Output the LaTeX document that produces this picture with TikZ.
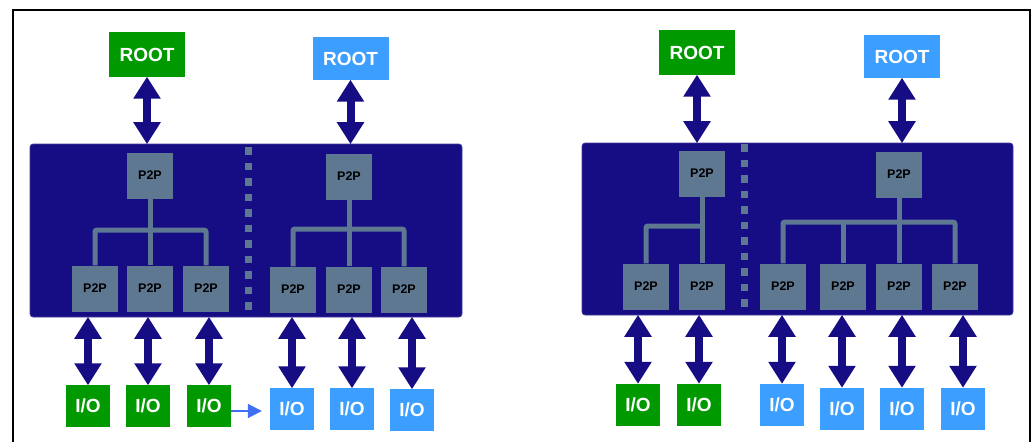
\documentclass[tikz,border=0pt]{standalone}
\usepackage{fontspec}
\setmainfont{Liberation Sans}
\usetikzlibrary{arrows.meta}
\definecolor{navy}{RGB}{22,12,131}
\definecolor{grn}{RGB}{0,153,0}
\definecolor{lblue}{RGB}{60,158,255}
\definecolor{p2pgray}{RGB}{94,120,146}
\definecolor{linkblue}{RGB}{63,111,243}
\tikzset{
  panel/.style={fill=navy, draw=navy!80!white, line width=0.6pt, rounded corners=3pt, inner sep=0},
  rootg/.style={fill=grn, text=white, minimum width=76pt, minimum height=45pt, inner sep=0, font=\bfseries\fontsize{19}{19}\selectfont},
  rootb/.style={rootg, fill=lblue, minimum height=43pt},
  iog/.style={fill=grn, text=white, minimum width=44pt, minimum height=42pt, inner sep=0, font=\bfseries\fontsize{19}{19}\selectfont},
  iob/.style={iog, fill=lblue},
  p2p/.style={fill=p2pgray, text=black, minimum width=46pt, minimum height=46pt, inner sep=0, font=\bfseries\fontsize{12.5}{12.5}\selectfont},
  dbl/.style={draw=navy, line width=8pt, {Triangle[width=26pt,length=22pt]}-{Triangle[width=26pt,length=22pt]}, shorten <=-0.5pt, shorten >=-0.5pt},
  tree/.style={draw=p2pgray, line width=5pt, rounded corners=2pt},
  divider/.style={draw=p2pgray, line width=7pt, dash pattern=on 7.5pt off 8pt},
  link/.style={draw=linkblue, line width=2pt, -{Triangle[width=14pt,length=14pt]}}
}
\begin{document}
\begin{tikzpicture}[x=1pt,y=-1pt]
\useasboundingbox (0,0) rectangle (1032,442);
\fill[white] (0,0) rectangle (1032,442);
% frame
\draw[line width=2pt] (13,442) -- (13,10) -- (1030,10) -- (1030,442);

% panels
\node[panel, minimum width=432pt, minimum height=173pt] (panelL) at (246,230.5) {};
\node[panel, minimum width=431pt, minimum height=172pt] (panelR) at (797.5,229) {};

% dividers
\coordinate (dLt) at (248.5,147);
\coordinate (dLb) at (248.5,316);
\coordinate (dRt) at (744,144);
\coordinate (dRb) at (744,313);
\draw[divider] (dLt) -- (dLb);
\draw[divider] (dRt) -- (dRb);

% roots
\node[rootg] (rLG) at (147,54.5) {ROOT};
\node[rootb] (rLB) at (350.5,58.5) {ROOT};
\node[rootg] (rRG) at (697,52.5) {ROOT};
\node[rootb] (rRB) at (902,56.5) {ROOT};

% left panel P2P
\node[p2p] (pLa) at (150,175.5) {P2P};
\node[p2p] (pLb) at (349,176.5) {P2P};
\node[p2p] (a1) at (95,288.5) {P2P};
\node[p2p] (a2) at (150,288.5) {P2P};
\node[p2p] (a3) at (206,288.5) {P2P};
\node[p2p] (b1) at (293,289.5) {P2P};
\node[p2p] (b2) at (349,289.5) {P2P};
\node[p2p] (b3) at (404,289.5) {P2P};

% right panel P2P
\node[p2p] (pRa) at (702,173.5) {P2P};
\node[p2p] (pRb) at (899,174.5) {P2P};
\node[p2p] (c1) at (646,286.5) {P2P};
\node[p2p] (c2) at (702,286.5) {P2P};
\node[p2p] (d1) at (783,286.5) {P2P};
\node[p2p] (d2) at (843,286.5) {P2P};
\node[p2p] (d3) at (899,286.5) {P2P};
\node[p2p] (d4) at (955,286.5) {P2P};

% trees
\coordinate (jLa) at (150,230);
\coordinate (jLb) at (349,229);
\coordinate (jRa) at (702,226);
\coordinate (jRb) at (899,222);
\draw[tree] (a1.north) |- (jLa) -| (a3.north);
\draw[tree] (pLa.south) -- (a2.north);
\draw[tree] (b1.north) |- (jLb) -| (b3.north);
\draw[tree] (pLb.south) -- (b2.north);
\draw[tree] (c1.north) |- (jRa);
\draw[tree] (pRa.south) -- (c2.north);
\draw[tree] (d1.north) |- (jRb) -| (d4.north);
\draw[tree] (d2.north) -- (d2.north |- jRb);
\draw[tree] (pRb.south) -- (d3.north);

% I/O
\node[iog] (gL1) at (88,406) {I/O};
\node[iog] (gL2) at (148,406) {I/O};
\node[iog] (gL3) at (209,406) {I/O};
\node[iob] (bL1) at (292,409) {I/O};
\node[iob] (bL2) at (352,409) {I/O};
\node[iob] (bL3) at (412,410) {I/O};
\node[iog] (gR1) at (638,404.5) {I/O};
\node[iog] (gR2) at (699,404.5) {I/O};
\node[iob] (bR1) at (782,404.5) {I/O};
\node[iob] (bR2) at (842,408.5) {I/O};
\node[iob] (bR3) at (902,408.5) {I/O};
\node[iob] (bR4) at (963,408.5) {I/O};

% root arrows
\foreach \r/\p in {rLG/panelL, rLB/panelL, rRG/panelR, rRB/panelR}
  \draw[dbl] (\r.south) -- (\r.south |- \p.north);

% io arrows
\foreach \i in {gL1,gL2,gL3,bL1,bL2,bL3}
  \draw[dbl] (\i.north |- panelL.south) -- (\i.north);
\foreach \i in {gR1,gR2,bR1,bR2,bR3,bR4}
  \draw[dbl] (\i.north |- panelR.south) -- (\i.north);

% migration link
\draw[link] (gL3.east |- 0,411) -- ([xshift=-8pt]bL1.west |- 0,411);
\end{tikzpicture}
\end{document}
